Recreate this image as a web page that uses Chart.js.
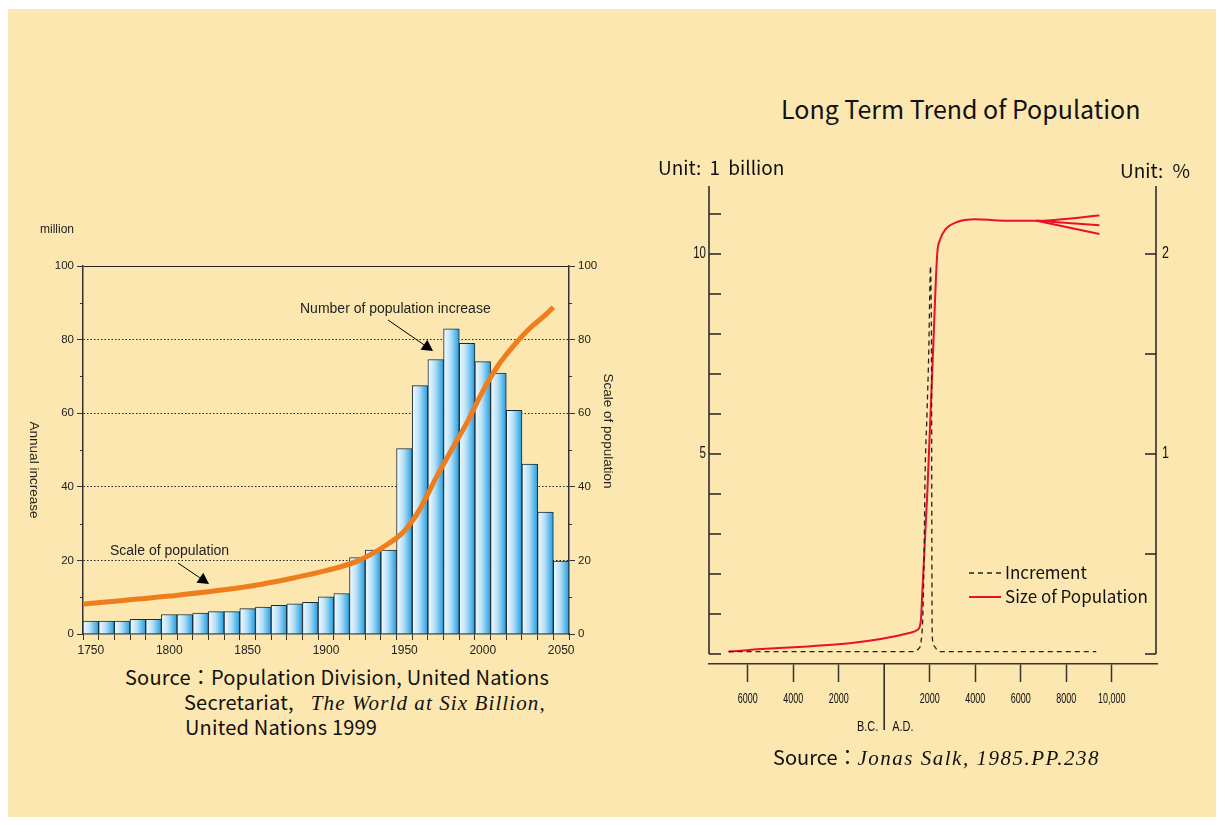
<!DOCTYPE html>
<html>
<head>
<meta charset="utf-8">
<script src="https://cdn.jsdelivr.net/npm/chart.js@4.4.1/dist/chart.umd.min.js"></script>
<style>
  body { margin: 0; background: #fff; }
  #panel { position: absolute; left: 8px; top: 9px; width: 1208px; height: 808px; background: #fde7b0; }
  canvas { position: absolute; }
  .txt { position: absolute; white-space: nowrap; color: #111; font-family: 'Noto Sans CJK JP', 'Noto Sans', sans-serif; line-height: 1; }
  .it { font-family: 'Liberation Serif', serif; font-style: italic; }
</style>
</head>
<body>
<div id="panel"></div>
<canvas id="annual" width="612" height="460" style="left:8px;top:200px"></canvas>
<canvas id="trend" width="584" height="580" style="left:640px;top:176px"></canvas>

<div class="txt" style="left:125px;top:667px;font-size:20px;letter-spacing:0.2px">Source：Population Division, United Nations</div>
<div class="txt" style="left:184px;top:692px;font-size:20px;letter-spacing:0.2px">Secretariat,<span class="it" style="font-size:21px;letter-spacing:1.1px;margin-left:17px">The World at Six Billion,</span></div>
<div class="txt" style="left:185px;top:717px;font-size:20px;letter-spacing:0.2px">United Nations 1999</div>

<div class="txt" style="left:781px;top:96px;font-size:25px">Long Term Trend of Population</div>
<div class="txt" style="left:658px;top:157px;font-size:19px;word-spacing:4px">Unit: 1 billion</div>
<div class="txt" style="left:1120px;top:160px;font-size:19px;word-spacing:5px">Unit: %</div>
<div class="txt" style="left:773px;top:747px;font-size:20px">Source：<span class="it" style="font-size:21px;letter-spacing:1.5px">Jonas Salk, 1985.PP.238</span></div>

<script>
// ---- left chart: annual increase (million) and scale of population ----
const years = [1750, 1760, 1770, 1780, 1790, 1800, 1810, 1820, 1830, 1840,
  1850, 1860, 1870, 1880, 1890, 1900, 1910, 1920, 1930, 1940,
  1950, 1960, 1970, 1980, 1990, 2000, 2010, 2020, 2030, 2040, 2050];
const annualIncrease = [3.5, 3.5, 3.5, 4.0, 4.0, 5.3, 5.3, 5.7, 6.1, 6.1,
  6.9, 7.3, 7.8, 8.2, 8.6, 10.1, 11.0, 20.8, 22.8, 22.8,
  50.4, 67.5, 74.6, 82.9, 79.0, 74.0, 70.9, 60.8, 46.2, 33.1, 19.8];
const popYears = [1745, 1800, 1850, 1880, 1900, 1920, 1940, 1950, 1960, 1970, 1980, 1990, 2000, 2010, 2020, 2030, 2040, 2045];
const popScale = [8.1, 10.3, 12.9, 15.3, 17.2, 19.8, 24.6, 28.0, 34.0, 42.3, 50.0, 57.5, 66.0, 73.1, 78.5, 83.1, 86.7, 88.8];

// ---- right chart: long term trend ----
const incYears = [-6840, 1300, 1500, 1610, 1700, 1760, 1790, 1880, 1960, 2010, 2035, 2060, 2080, 2090, 2100, 2110, 2200, 2300, 2450, 9320];
const incPct = [0.012, 0.012, 0.025, 0.055, 0.2, 0.55, 0.85, 1.2, 1.52, 1.85, 1.94, 1.8, 1.5, 0.8, 0.3, 0.09, 0.04, 0.024, 0.012, 0.012];
const sizeYears = [-6840, 1150, 1450, 1560, 1620, 1680, 1900, 2150, 2330, 2450, 2700, 3200, 4000, 5000, 6700, 9460];
const sizeBillion = [0.06, 0.53, 0.6, 0.68, 0.9, 1.6, 4.1, 7.6, 10.0, 10.35, 10.62, 10.8, 10.87, 10.84, 10.83, 10.96];
const branchYears = [6700, 9460];
const branchMid = [10.83, 10.72];
const branchLow = [10.83, 10.5];
const eraTicks = [-6000, -4000, -2000, 0, 2000, 4000, 6000, 8000, 10000];
const eraLabels = ['6000', '4000', '2000', '', '2000', '4000', '6000', '8000', '10,000'];
const billionTicks = [0, 1, 2, 3, 4, 5, 6, 7, 8, 9, 10, 11];
const billionLabels = ['', '', '', '', '', '5', '', '', '', '', '10', ''];
const pctTicks = [0, 0.5, 1, 1.5, 2];
const pctLabels = ['', '', '1', '', '2'];

const sans = "'Liberation Sans', Arial, sans-serif";
const jp = "'Noto Sans CJK JP', 'Noto Sans', sans-serif";

function pts(xs, ys) { return xs.map((x, i) => ({ x: x, y: ys[i] })); }
function noPad(s) { s.paddingTop = 0; s.paddingBottom = 0; s.paddingLeft = 0; s.paddingRight = 0; }

function arrow(ctx, x1, y1, x2, y2) {
  const a = Math.atan2(y2 - y1, x2 - x1);
  const len = 11, w = 6;
  const bx = x2 - len * Math.cos(a), by = y2 - len * Math.sin(a);
  ctx.beginPath();
  ctx.moveTo(x1, y1);
  ctx.lineTo(bx, by);
  ctx.stroke();
  ctx.beginPath();
  ctx.moveTo(x2, y2);
  ctx.lineTo(bx + w * Math.sin(a), by - w * Math.cos(a));
  ctx.lineTo(bx - w * Math.sin(a), by + w * Math.cos(a));
  ctx.closePath();
  ctx.fill();
}

// narrow text: drawn squeezed horizontally
function narrowText(ctx, text, x, y, size, sx, align) {
  ctx.save();
  ctx.font = size + 'px ' + sans;
  const w = ctx.measureText(text).width * sx;
  let x0 = x;
  if (align === 'center') x0 = x - w / 2;
  if (align === 'right') x0 = x - w;
  ctx.translate(x0, y);
  ctx.scale(sx, 1);
  ctx.textAlign = 'left';
  ctx.textBaseline = 'middle';
  ctx.fillText(text, 0, 0);
  ctx.restore();
}

const annualDecor = {
  id: 'annualDecor',
  afterDraw(chart) {
    const ctx = chart.ctx;
    const { left, right } = chart.chartArea;
    const yl = chart.scales.y, yr = chart.scales.yr;
    ctx.save();
    ctx.strokeStyle = '#333';
    ctx.lineWidth = 1;
    // short minor ticks
    [10, 30, 50, 70, 90].forEach(v => {
      const p = Math.round(yl.getPixelForValue(v)) + 0.5;
      ctx.beginPath(); ctx.moveTo(left - 3, p); ctx.lineTo(left, p); ctx.stroke();
      const q = Math.round(yr.getPixelForValue(v)) + 0.5;
      ctx.beginPath(); ctx.moveTo(right, q); ctx.lineTo(right + 3, q); ctx.stroke();
    });
    ctx.fillStyle = '#222';
    ctx.font = '12px ' + sans;
    ctx.textBaseline = 'middle';
    ctx.textAlign = 'left';
    ctx.fillText('million', 32, 30);
    ctx.font = '13.5px ' + sans;
    ctx.save();
    ctx.translate(26, 270); ctx.rotate(Math.PI / 2);
    ctx.textAlign = 'center'; ctx.fillText('Annual increase', 0, 0);
    ctx.restore();
    ctx.save();
    ctx.translate(600, 231); ctx.rotate(Math.PI / 2);
    ctx.textAlign = 'center'; ctx.fillText('Scale of population', 0, 0);
    ctx.restore();
    ctx.font = '14px ' + sans;
    ctx.fillText('Number of population increase', 292, 109);
    ctx.fillText('Scale of population', 102, 351);
    ctx.fillStyle = '#000';
    ctx.strokeStyle = '#000';
    arrow(ctx, 380, 120, 425, 151);
    arrow(ctx, 170, 363, 201, 384);
    ctx.restore();
  }
};

new Chart(document.getElementById('annual'), {
  type: 'bar',
  data: {
    labels: years,
    datasets: [{
      type: 'line',
      label: 'Scale of population',
      data: pts(popYears, popScale),
      xAxisID: 'xl',
      yAxisID: 'yr',
      borderColor: '#ee7d1e',
      borderWidth: 5,
      pointRadius: 0,
      cubicInterpolationMode: 'monotone',
      order: 0
    }, {
      type: 'bar',
      label: 'Number of population increase',
      data: annualIncrease,
      xAxisID: 'x',
      yAxisID: 'y',
      grouped: false,
      barPercentage: 1,
      categoryPercentage: 1,
      borderWidth: 1,
      borderColor: '#1c2a36',
      backgroundColor: (c) => {
        const x = c.chart.scales.x;
        if (!x || !c.chart.chartArea) return '#9fd6f2';
        const mid = x.getPixelForValue(c.dataIndex);
        const half = (x.getPixelForValue(1) - x.getPixelForValue(0)) / 2;
        const g = c.chart.ctx.createLinearGradient(mid - half, 0, mid + half, 0);
        g.addColorStop(0, '#f4fbff');
        g.addColorStop(0.45, '#b4dff6');
        g.addColorStop(1, '#1f9ee2');
        return g;
      },
      order: 1
    }]
  },
  options: {
    responsive: false,
    animation: false,
    devicePixelRatio: 1,
    layout: { padding: { top: 66, left: 0, right: 0, bottom: 0 } },
    plugins: { legend: { display: false }, tooltip: { enabled: false } },
    scales: {
      x: {
        type: 'category',
        offset: true,
        afterFit: s => { s.height = 26; noPad(s); },
        grid: { offset: true, drawOnChartArea: false, tickLength: 6, color: '#333' },
        border: { color: '#333', width: 1.5 },
        ticks: {
          autoSkip: false, maxRotation: 0, padding: 3, color: '#222',
          font: { family: sans, size: 12 },
          callback: (v, i) => (years[i] % 50 === 0 ? years[i] : '')
        }
      },
      xl: { type: 'linear', display: false, offset: false, min: 1745, max: 2055 },
      y: {
        position: 'left',
        min: 0, max: 100,
        afterFit: s => { s.width = 75; noPad(s); },
        grid: {
          tickLength: 6,
          color: c => (c.tick && c.tick.value % 20 === 0 && c.tick.value > 0) ? '#222' : 'rgba(0,0,0,0)',
          tickColor: c => (c.tick && c.tick.value % 20 === 0) ? '#333' : 'rgba(0,0,0,0)'
        },
        border: {
          color: '#333', width: 1.5,
          dash: c => (c.tick && c.tick.value === 100) ? [] : [1.5, 2]
        },
        ticks: {
          stepSize: 10, padding: 3, color: '#222',
          font: { family: sans, size: 11.5 },
          callback: v => (v % 20 === 0 ? v : '')
        }
      },
      yr: {
        position: 'right',
        min: 0, max: 100,
        afterFit: s => { s.width = 51; noPad(s); },
        grid: {
          drawOnChartArea: false, tickLength: 6,
          tickColor: c => (c.tick && c.tick.value % 20 === 0) ? '#333' : 'rgba(0,0,0,0)'
        },
        border: { color: '#333', width: 1.5 },
        ticks: {
          stepSize: 10, padding: 3, color: '#222',
          font: { family: sans, size: 11.5 },
          callback: v => (v % 20 === 0 ? v : '')
        }
      }
    }
  },
  plugins: [annualDecor]
});

const trendDecor = {
  id: 'trendDecor',
  afterDraw(chart) {
    const ctx = chart.ctx;
    const { left, right, top, bottom } = chart.chartArea;
    const y = chart.scales.y, yR = chart.scales.yR, x = chart.scales.x;
    ctx.save();
    ctx.strokeStyle = '#222';
    ctx.fillStyle = '#111';
    ctx.lineWidth = 1.5;
    const y0 = y.getPixelForValue(0);
    ctx.beginPath(); ctx.moveTo(left, y0); ctx.lineTo(left, top); ctx.stroke();
    ctx.beginPath(); ctx.moveTo(right - 1, yR.getPixelForValue(0)); ctx.lineTo(right - 1, top); ctx.stroke();
    billionTicks.forEach((v, i) => {
      const p = y.getPixelForValue(v);
      ctx.beginPath(); ctx.moveTo(left, p); ctx.lineTo(left + 12, p); ctx.stroke();
      if (billionLabels[i]) narrowText(ctx, billionLabels[i], left - 3, p, 16, 0.72, 'right');
    });
    pctTicks.forEach((v, i) => {
      const p = yR.getPixelForValue(v);
      ctx.beginPath(); ctx.moveTo(right - 12, p); ctx.lineTo(right - 1, p); ctx.stroke();
      if (pctLabels[i]) narrowText(ctx, pctLabels[i], right + 5, p, 16, 0.78, 'left');
    });
    // era labels under the axis ticks
    eraTicks.forEach((v, i) => {
      if (eraLabels[i]) narrowText(ctx, eraLabels[i], x.getPixelForValue(v), bottom + 35, 14.5, 0.62, 'center');
    });
    // B.C. / A.D. divider
    const x0 = x.getPixelForValue(0);
    ctx.beginPath(); ctx.moveTo(x0, bottom); ctx.lineTo(x0, bottom + 66); ctx.stroke();
    narrowText(ctx, 'B.C.', x0 - 6, bottom + 63, 14, 0.78, 'right');
    narrowText(ctx, 'A.D.', x0 + 8, bottom + 63, 14, 0.78, 'left');
    // legend
    const lx = 329;
    ctx.lineWidth = 1.3;
    ctx.setLineDash([5, 4]);
    ctx.strokeStyle = '#222';
    ctx.beginPath(); ctx.moveTo(lx, 397); ctx.lineTo(lx + 32, 397); ctx.stroke();
    ctx.setLineDash([]);
    ctx.strokeStyle = '#e8102a';
    ctx.lineWidth = 2;
    ctx.beginPath(); ctx.moveTo(lx, 421); ctx.lineTo(lx + 32, 421); ctx.stroke();
    ctx.font = '17px ' + jp;
    ctx.textBaseline = 'middle';
    ctx.textAlign = 'left';
    ctx.fillText('Increment', lx + 36, 397);
    ctx.fillText('Size of Population', lx + 36, 421);
    ctx.restore();
  }
};

new Chart(document.getElementById('trend'), {
  type: 'line',
  data: {
    datasets: [{
      label: 'Increment',
      data: pts(incYears, incPct),
      yAxisID: 'yR',
      borderColor: '#222',
      borderWidth: 1.3,
      borderDash: [5, 4],
      pointRadius: 0,
      cubicInterpolationMode: 'monotone'
    }, {
      label: 'Size of Population',
      data: pts(sizeYears, sizeBillion),
      yAxisID: 'y',
      borderColor: '#e8102a',
      borderWidth: 2,
      pointRadius: 0,
      cubicInterpolationMode: 'monotone'
    }, {
      label: 'mid',
      data: pts(branchYears, branchMid),
      yAxisID: 'y',
      borderColor: '#e8102a',
      borderWidth: 2,
      pointRadius: 0
    }, {
      label: 'low',
      data: pts(branchYears, branchLow),
      yAxisID: 'y',
      borderColor: '#e8102a',
      borderWidth: 2,
      pointRadius: 0
    }]
  },
  options: {
    responsive: false,
    animation: false,
    devicePixelRatio: 1,
    layout: { padding: { top: 10, left: 0, right: 0, bottom: 0 } },
    plugins: { legend: { display: false }, tooltip: { enabled: false } },
    scales: {
      x: {
        type: 'linear',
        min: -7700, max: 11990,
        afterBuildTicks: s => { s.ticks = eraTicks.map(v => ({ value: v })); },
        afterFit: s => { s.height = 92; noPad(s); },
        grid: {
          drawOnChartArea: false, tickLength: 18, tickWidth: 1.5,
          tickColor: c => (c.tick && c.tick.value === 0) ? 'rgba(0,0,0,0)' : '#333'
        },
        border: { color: '#333', width: 1.5 },
        ticks: { display: false }
      },
      y: {
        position: 'left',
        min: -0.25, max: 11.7,
        afterFit: s => { s.width = 69; noPad(s); },
        grid: { display: false },
        border: { display: false },
        ticks: { display: false }
      },
      yR: {
        position: 'right',
        min: -0.05, max: 2.34,
        afterFit: s => { s.width = 67; noPad(s); },
        grid: { display: false },
        border: { display: false },
        ticks: { display: false }
      }
    }
  },
  plugins: [trendDecor]
});
</script>
</body>
</html>
